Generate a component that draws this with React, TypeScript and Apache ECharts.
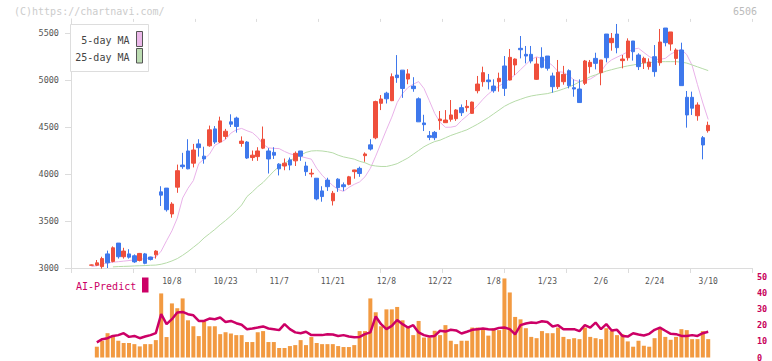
import React, { useEffect, useRef } from 'react';
import * as echarts from 'echarts';

const DATES = [
  '9/16','9/17','9/18','9/19','9/22','9/24','9/25','9/26','9/29','9/30',
  '10/1','10/2','10/3','10/6','10/7','10/8','10/9','10/10','10/14','10/15','10/16','10/17','10/20','10/21','10/22','10/23','10/24','10/27','10/28','10/29','10/30','10/31',
  '11/4','11/5','11/6','11/7','11/10','11/11','11/12','11/13','11/14','11/17','11/18','11/19','11/20','11/21','11/25','11/26','11/27','11/28',
  '12/1','12/2','12/3','12/4','12/5','12/8','12/9','12/10','12/11','12/12','12/15','12/16','12/17','12/18','12/19','12/22','12/23','12/24','12/25','12/26','12/29','12/30',
  '1/5','1/6','1/7','1/8','1/9','1/13','1/14','1/15','1/16','1/19','1/20','1/21','1/22','1/23','1/26','1/27','1/28','1/29','1/30',
  '2/2','2/3','2/4','2/5','2/6','2/9','2/10','2/12','2/13','2/16','2/17','2/18','2/19','2/20','2/24','2/25','2/26','2/27',
  '3/2','3/3','3/4','3/5','3/6','3/9','3/10'
];

const LABEL_DATES = ['10/8','10/23','11/7','11/21','12/8','12/22','1/8','1/23','2/6','2/24','3/10'];

// [open, close, low, high]
const OHLC = [
  [3030,3032,3028,3036],[3030,3055,3020,3085],[3015,3100,2993,3120],[3150,3055,3000,3185],[3070,3215,3060,3230],
  [3265,3120,3100,3265],[3120,3180,3100,3215],[3150,3115,3100,3200],[3130,3065,3055,3145],[3080,3155,3070,3160],
  [3150,3050,3040,3160],[3117,3090,3080,3120],[3140,3180,3100,3190],[3810,3775,3660,3870],[3850,3620,3600,3850],
  [3575,3680,3535,3700],[3860,4035,3800,4100],[4095,4078,4055,4225],[4245,4055,4050,4370],[4115,4255,4070,4320],
  [4320,4280,4185,4370],[4190,4160,4110,4290],[4300,4470,4290,4515],[4480,4340,4320,4510],[4340,4565,4330,4610],
  [4400,4455,4370,4480],[4555,4530,4500,4635],[4595,4505,4440,4610],[4325,4350,4290,4400],[4340,4170,4160,4350],
  [4175,4200,4140,4250],[4185,4245,4140,4285],[4275,4370,4265,4505],[4245,4160,4005,4275],[4230,4200,4160,4285],
  [4105,4055,3985,4115],[4085,4115,4040,4165],[4150,4095,4040,4175],[4140,4220,4085,4240],[4245,4190,4140,4245],
  [4085,4025,3980,4130],[4000,4008,3965,4055],[3955,3735,3720,3955],[3820,3760,3705,3870],[3935,3865,3820,3960],
  [3715,3795,3665,3820],[3945,3855,3810,3955],[3885,3865,3820,3910],[3890,3970,3880,3980],[4025,4043,3950,4045],
  [4060,4005,3970,4078],[4195,4213,4130,4230],[4310,4265,4250,4370],[4385,4770,4370,4780],[4752,4798,4680,4840],
  [4860,4800,4750,4875],[4780,5035,4775,5070],[5053,5025,4970,5265],[5105,4910,4810,5105],[5010,5065,4955,5115],
  [4935,4908,4875,5030],[4800,4555,4555,4815],[4543,4525,4457,4630],[4408,4390,4360,4457],[4443,4386,4360,4457],
  [4567,4585,4470,4670],[4546,4574,4545,4680],[4582,4628,4557,4787],[4588,4681,4565,4690],[4706,4652,4617,4740],
  [4706,4720,4663,4787],[4645,4765,4640,4770],[4886,4957,4858,5043],[4982,5078,4929,5142],[5000,4982,4900,5064],
  [4936,4886,4865,5007],[4982,5018,4876,5078],[5149,4911,4830,5255],[5000,5241,4995,5330],[5160,5223,5053,5230],
  [5337,5322,5230,5468],[5273,5255,5177,5362],[5273,5202,5177,5362],[5007,5170,5000,5240],[5241,5135,5125,5348],
  [5255,5125,5100,5255],[5043,4929,4865,5078],[4929,5082,4904,5213],[4982,5060,4950,5150],[5099,4939,4911,5113],
  [4918,4904,4822,5007],[4904,4760,4760,5007],[4965,5202,4947,5213],[5142,5188,5071,5213],[5230,5177,5113,5290],
  [5078,5213,4944,5213],[5489,5237,5188,5489],[5397,5443,5312,5500],[5489,5344,5284,5596],[5206,5223,5124,5266],
  [5237,5415,5206,5443],[5415,5301,5206,5415],[5266,5142,5106,5284],[5184,5230,5117,5248],[5142,5191,5110,5230],
  [5248,5089,5035,5372],[5184,5404,5152,5543],[5553,5397,5358,5553],[5383,5511,5312,5511],[5230,5319,5160,5337],
  [5319,4940,4940,5397],[4816,4628,4493,4883],[4816,4700,4628,4876],[4620,4734,4567,4762],[4386,4309,4156,4404],
  [4461,4518,4440,4557]
];

const MA5 = [
  3015,3025,3040,3055,3062,3067,3073,3079,3085,3092,
  3100,3108,3116,3180,3290,3395,3530,3745,3848,3930,
  4110,4160,4210,4305,4335,4368,4435,4470,4485,4460,
  4440,4390,4315,4278,4273,4270,4240,4215,4200,4187,
  4172,4158,4060,3988,3930,3877,3835,3815,3858,3890,
  3916,3970,4060,4190,4330,4470,4605,4760,4855,4920,
  4955,4983,4910,4780,4645,4550,4497,4498,4510,4570,
  4618,4670,4730,4795,4852,4895,4935,4975,5012,5055,
  5110,5165,5220,5246,5228,5195,5153,5089,5082,5045,
  5000,4983,4993,5010,5045,5090,5170,5215,5243,5270,
  5300,5328,5338,5293,5250,5220,5220,5230,5275,5305,
  5326,5270,5155,4950,4755,4580
];

const MA25 = [
  null,null,null,null,3012,3015,3017,3019,3022,3024,
  3026,3029,3031,3040,3055,3075,3100,3135,3175,3220,
  3265,3320,3365,3410,3460,3505,3555,3610,3670,3760,
  3810,3865,3910,3970,4030,4080,4115,4145,4170,4200,
  4230,4245,4248,4245,4237,4225,4200,4182,4170,4158,
  4135,4120,4095,4085,4080,4080,4093,4110,4140,4170,
  4210,4250,4290,4320,4345,4360,4385,4410,4430,4450,
  4470,4500,4530,4565,4600,4640,4680,4720,4750,4775,
  4795,4815,4830,4840,4848,4855,4870,4885,4905,4925,
  4950,4980,5005,5035,5055,5075,5095,5110,5125,5138,
  5150,5160,5170,5180,5185,5190,5195,5195,5195,5195,
  5190,5180,5160,5140,5120,5100
];

const VOLUME = [
  null,6.7,10.4,15.1,13.9,10.4,9.0,9.0,8.3,6.9,
  8.3,8.3,10.8,39.8,12.7,33.6,30.6,36.7,23.1,19.4,
  13.3,22.5,19.4,19.4,14.5,15.7,14.9,13.9,13.9,9.6,
  9.6,15.7,16.4,9.6,9.6,5.9,5.9,7.1,7.7,10.8,
  7.7,12.7,9.0,8.3,8.3,8.3,7.1,6.5,6.5,7.7,
  16.4,16.4,36.7,28.1,19.4,29.9,29.9,31.4,23.1,19.0,
  13.9,22.7,12.4,12.4,16.6,13.9,20.1,10.4,8.3,10.4,
  10.4,18.6,18.6,17.6,13.6,18.2,17.0,49.1,40.4,25.2,
  23.7,18.2,12.8,12.0,16.4,15.1,15.1,18.6,12.8,11.4,
  12.0,11.4,18.6,12.8,12.0,11.4,18.2,16.6,13.9,14.5,
  10.0,6.7,10.4,7.3,6.7,12.0,18.2,12.8,11.0,12.8,
  17.6,17.0,11.4,11.4,16.4,11.4
];

const AI_PREDICT = [
  null,9.4,11.4,12.0,13.4,13.9,15.1,12.8,13.4,12.0,
  13.0,13.9,15.1,26.9,20.7,23.8,27.9,28.3,26.9,26.2,
  22.7,22.7,24.2,23.8,24.8,22.1,22.7,21.3,20.3,17.6,
  18.0,18.6,19.3,18.0,17.6,17.0,20.7,17.6,15.6,15.1,
  16.0,13.9,13.9,13.9,14.5,14.3,13.4,13.9,13.0,12.6,
  12.8,14.5,15.6,25.5,20.7,17.6,19.6,23.3,20.7,18.6,
  20.1,15.6,13.9,13.0,13.4,16.6,16.1,17.2,16.8,14.9,
  16.0,17.2,17.6,18.0,17.6,17.4,18.4,18.6,17.6,14.3,
  20.1,21.1,21.7,21.5,22.5,22.1,19.3,20.1,17.6,17.6,
  17.6,16.4,20.1,18.6,21.7,17.6,20.7,16.8,17.2,13.4,
  13.0,15.1,14.3,13.7,14.7,17.2,18.6,16.6,14.7,14.5,
  13.4,13.4,13.9,13.4,15.1,16.0
];

const Y_TICKS = [3000, 3500, 4000, 4500, 5000, 5500];
const VOL_TICKS = [0, 10, 20, 30, 40, 50];

const PAD_L = 3;
const PAD_R = 9;
const SLOT = 5.363;
const MONO = '"DejaVu Sans Mono", monospace';

export default function App() {
  const ref = useRef<HTMLDivElement>(null);
  useEffect(() => {
    if (!ref.current) return;
    const chart = echarts.init(ref.current, null, { renderer: 'svg' });
    const cats: string[] = [];
    for (let i = 0; i < PAD_L; i++) cats.push('pl' + i);
    DATES.forEach((d) => cats.push(d));
    for (let i = 0; i < PAD_R; i++) cats.push('pr' + i);
    const nSlots = cats.length;
    const catWidth = nSlots * SLOT;
    const gLeft = 72.7;
    const priceMin = 3000, priceMax = 5650;
    const pxPer = 0.094;
    const mainTop = 268 - (priceMax - priceMin) * pxPer;
    const mainH = 268 - mainTop;
    const volTop = 277, volH = 80.5;

    const candleData = OHLC.map((d, i) => [i + PAD_L, d[0], d[1], d[2], d[3]]);
    const toXY = (arr: (number | null)[]) =>
      arr.map((v, i) => (v == null ? null : [i + PAD_L, v])).filter((x) => x !== null);

    const red = '#ef4f3c';
    const blue = '#3e78ec';
    const grey = '#dcdcdc';

    const option: any = {
      animation: false,
      backgroundColor: '#ffffff',
      grid: [
        { left: gLeft, top: mainTop, width: catWidth, height: mainH, containLabel: false, outerBoundsMode: 'none' },
        { left: 71, top: mainTop, width: 681, height: mainH, containLabel: false, outerBoundsMode: 'none' },
        { left: gLeft, top: volTop, width: catWidth, height: volH, containLabel: false, outerBoundsMode: 'none' },
        { left: 71, top: volTop, width: 681, height: volH, containLabel: false, outerBoundsMode: 'none' },
      ],
      xAxis: [
        {
          type: 'category', gridIndex: 0, data: cats, boundaryGap: true,
          axisLine: { show: false }, axisTick: { show: false }, splitLine: { show: false },
          axisLabel: {
            interval: (_i: number, v: string) => LABEL_DATES.indexOf(v) >= 0,
            formatter: (v: string) => (LABEL_DATES.indexOf(v) >= 0 ? v : ''),
            fontFamily: MONO, fontSize: 8, color: '#555', margin: 9,
            hideOverlap: false,
          },
        },
        {
          type: 'value', gridIndex: 1, min: 0, max: 11, interval: 1,
          axisLine: { show: true, lineStyle: { color: grey, width: 1 } },
          axisTick: { show: true, inside: false, length: 5, lineStyle: { color: grey } },
          axisLabel: { show: false }, splitLine: { show: false },
        },
        {
          type: 'value', gridIndex: 1, min: 0, max: 11, interval: 1,
          axisLine: { show: false },
          axisTick: { show: true, inside: true, length: 3, lineStyle: { color: grey } },
          axisLabel: { show: false }, splitLine: { show: false },
        },
        {
          type: 'category', gridIndex: 2, data: cats, boundaryGap: true, show: false,
        },
        { type: 'value', gridIndex: 3, min: 0, max: 1, show: false },
      ],
      yAxis: [
        { type: 'value', gridIndex: 0, min: priceMin, max: priceMax, show: false, scale: true },
        {
          type: 'value', gridIndex: 1, min: priceMin, max: priceMax, interval: 500,
          axisLine: { show: true, lineStyle: { color: grey, width: 1 } },
          axisTick: { show: true, length: 6, lineStyle: { color: grey }, customValues: Y_TICKS },
          axisLabel: {
            fontFamily: MONO, fontSize: 8.5, color: '#555', margin: 12,
            customValues: Y_TICKS,
            formatter: (v: number) => (Y_TICKS.indexOf(v) >= 0 ? String(v) : ''),
          },
          splitLine: { show: false },
        },
        { type: 'value', gridIndex: 2, min: 0, max: 50, show: false },
        {
          type: 'value', gridIndex: 3, min: 0, max: 50, interval: 10, position: 'right',
          axisLine: { show: false }, axisTick: { show: false }, splitLine: { show: false },
          axisLabel: {
            fontFamily: MONO, fontSize: 8.5, color: '#c8005a', margin: 5, fontWeight: 'bold',
            customValues: VOL_TICKS,
          },
        },
      ],
      series: [
        {
          type: 'candlestick', xAxisIndex: 0, yAxisIndex: 0,
          data: candleData, encode: { x: 0, y: [1, 2, 3, 4] },
          barWidth: 4,
          itemStyle: { color: red, color0: blue, borderColor: red, borderColor0: blue, borderWidth: 1 },
          z: 3,
        },
        {
          type: 'line', xAxisIndex: 0, yAxisIndex: 0, data: toXY(MA5), symbol: 'none',
          lineStyle: { color: '#e9b2e9', width: 1 }, z: 2,
        },
        {
          type: 'line', xAxisIndex: 0, yAxisIndex: 0, data: toXY(MA25), symbol: 'none',
          lineStyle: { color: '#b6dba8', width: 1 }, z: 2,
        },
        {
          type: 'bar', xAxisIndex: 3, yAxisIndex: 2, data: toXY(VOLUME), barWidth: 4,
          itemStyle: { color: '#f29a41' }, z: 2,
        },
        {
          type: 'line', xAxisIndex: 3, yAxisIndex: 2, data: toXY(AI_PREDICT), symbol: 'none',
          lineStyle: { color: '#cc0066', width: 2.5 }, z: 3,
        },
      ],
      graphic: [
        {
          type: 'text', left: 14, top: 6,
          style: { text: '(C)https://chartnavi.com/', font: '10px ' + MONO, fill: '#cccccc' },
        },
        {
          type: 'text', right: 15, top: 6,
          style: { text: '6506', font: '10px ' + MONO, fill: '#bbbbbb' },
        },
        {
          type: 'rect', shape: { x: 70.5, y: 24.5, width: 78, height: 47 },
          style: { fill: '#ffffff', stroke: '#dddddd', lineWidth: 1 }, z: 10,
        },
        {
          type: 'text', x: 129.5, y: 40, z: 11,
          style: { text: '5-day MA', font: '10px ' + MONO, fill: '#444', align: 'right', verticalAlign: 'middle' },
        },
        {
          type: 'text', x: 129.5, y: 57.5, z: 11,
          style: { text: '25-day MA', font: '10px ' + MONO, fill: '#444', align: 'right', verticalAlign: 'middle' },
        },
        {
          type: 'rect', shape: { x: 136.5, y: 31.5, width: 6, height: 15 }, z: 11,
          style: { fill: '#ebb8e9', stroke: '#555', lineWidth: 1 },
        },
        {
          type: 'rect', shape: { x: 136.5, y: 48.5, width: 6, height: 14.5 }, z: 11,
          style: { fill: '#bcdcb2', stroke: '#555', lineWidth: 1 },
        },
        {
          type: 'text', x: 76, y: 286, z: 11,
          style: { text: 'AI-Predict', font: '10px ' + MONO, fill: '#cc0066', verticalAlign: 'middle' },
        },
        {
          type: 'rect', shape: { x: 142, y: 277.5, width: 6.5, height: 15 }, z: 11,
          style: { fill: '#cc0066' },
        },
      ],
    };
    chart.setOption(option);
    return () => chart.dispose();
  }, []);
  return (
    <div
      ref={ref}
      style={{ position: 'fixed', left: 0, top: 0, width: 772, height: 361, background: '#fff' }}
    />
  );
}
